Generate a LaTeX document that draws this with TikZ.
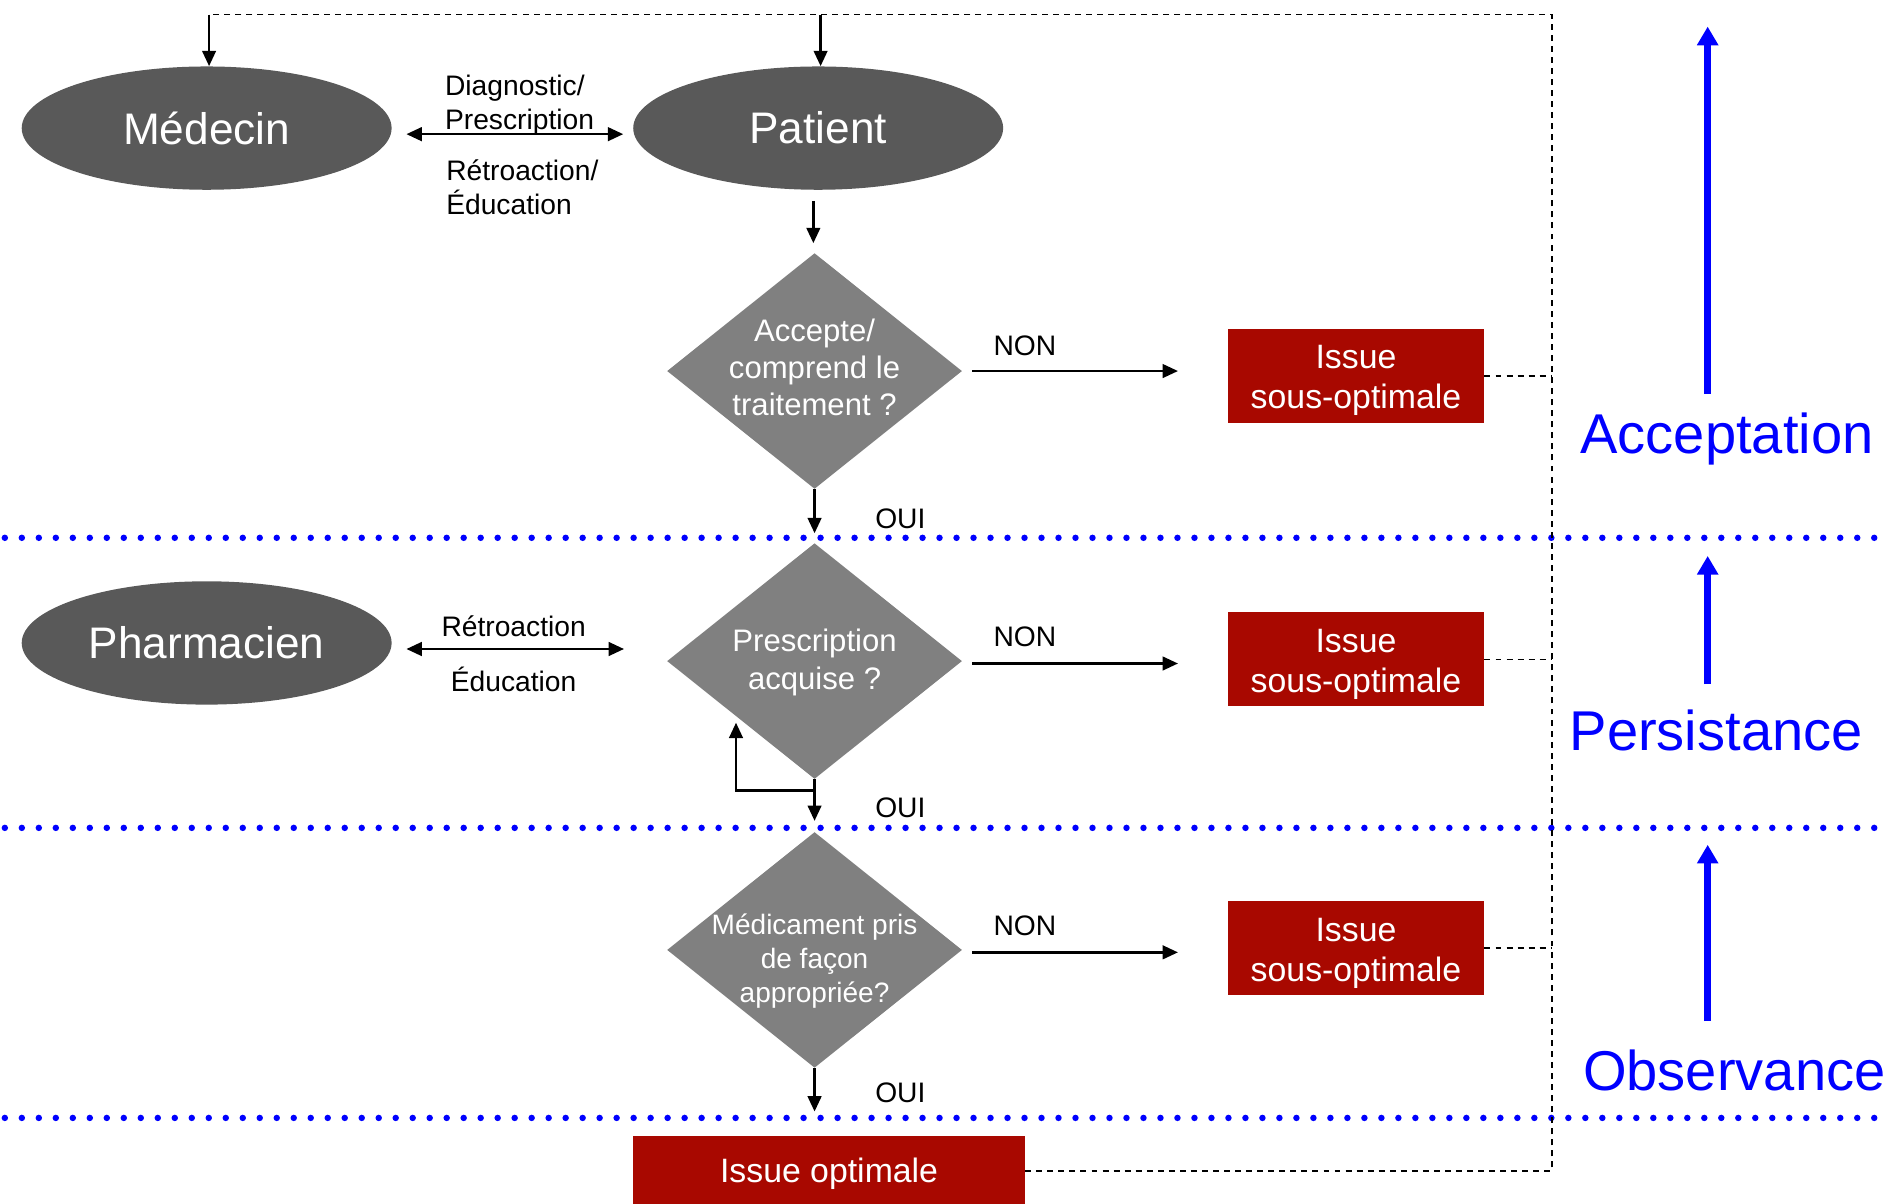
\documentclass[tikz,border=0pt]{standalone}
\usepackage{fontspec}
\setmainfont{Liberation Sans}
\usetikzlibrary{shapes.geometric,arrows.meta,calc}
\definecolor{ellgray}{HTML}{595959}
\definecolor{diagray}{HTML}{808080}
\definecolor{boxred}{HTML}{A80800}
\definecolor{pureblue}{HTML}{0000FF}
\begin{document}
\begin{tikzpicture}[x=0.025cm,y=-0.025cm,
 ell/.style={ellipse, fill=ellgray, text=white, minimum width=7.65cm, minimum height=2.55cm, inner sep=0pt, font=\fontsize{26}{30}\selectfont},
 dia/.style={diamond, fill=diagray, minimum width=6.1cm, minimum height=4.875cm, inner sep=0pt},
 diatext/.style={text=white, align=center, inner sep=0pt, font=\fontsize{18.3}{22}\selectfont},
 diatextsmall/.style={text=white, align=center, inner sep=0pt, font=\fontsize{16.5}{20}\selectfont},
 redbox/.style={rectangle, fill=boxred, minimum width=5.3cm, minimum height=1.95cm, inner sep=0pt},
 boxtext/.style={text=white, align=center, inner sep=0pt, font=\fontsize{19.9}{23.5}\selectfont},
 lab/.style={font=\fontsize{16.6}{20}\selectfont, inner sep=0pt},
 arr/.style={line width=1.4pt, -{Triangle[length=9pt,width=8pt]}},
 dbl/.style={line width=1.4pt, {Triangle[length=9pt,width=8pt]}-{Triangle[length=9pt,width=8pt]}},
 fb/.style={line width=0.9pt, dash pattern=on 3.5pt off 3pt},
 sep/.style={pureblue, line width=3.8pt, line cap=round, dash pattern=on 0pt off 10pt},
 barr/.style={pureblue, line width=4.3pt, -{Triangle[length=11pt,width=12pt]}},
 phase/.style={text=pureblue, inner sep=0pt, font=\fontsize{33}{36}\selectfont},
]
\useasboundingbox (0,0) rectangle (1568,996);

% separators
\coordinate (s1a) at (4,445); \coordinate (s1b) at (1555,445);
\coordinate (s2a) at (4,685); \coordinate (s2b) at (1555,685);
\coordinate (s3a) at (4,925); \coordinate (s3b) at (1555,925);
\draw[sep] (s1a) -- (s1b);
\draw[sep] (s2a) -- (s2b);
\draw[sep] (s3a) -- (s3b);

% actors
\node[ell] (med) at (171,106) {Médecin};
\node[ell] (pat) at (677,106) {Patient};
\node[ell] (pha) at (171,532) {Pharmacien};

% decisions
\node[dia] (d1) at (674,307) {};
\node[diatext] (d1t) at (674,304) {Accepte/\\comprend le\\traitement ?};
\node[dia] (d2) at (674,547) {};
\node[diatext] (d2t) at (674,548) {Prescription\\acquise ?};
\node[dia] (d3) at (674,786) {};
\node[diatextsmall] (d3t) at (674,795) {Médicament pris\\de façon\\appropriée?};

% outcomes
\node[redbox] (b1) at (1122,311) {};
\node[boxtext] (b1t) at (1122,315) {Issue\\sous-optimale};
\node[redbox] (b2) at (1122,545.5) {};
\node[boxtext] (b2t) at (1122,549.5) {Issue\\sous-optimale};
\node[redbox] (b3) at (1122,784.5) {};
\node[boxtext] (b3t) at (1122,788.5) {Issue\\sous-optimale};
\node[redbox, minimum width=8.1cm, minimum height=1.45cm] (opt) at (686,969) {};
\node[boxtext] (optt) at (686,971) {Issue optimale};

% feedback dashed loop
\coordinate (tr) at (1284,12);
\coordinate (ctm) at (173,12);
\coordinate (ctp) at (679,12);
\draw[fb] (opt.east) -| (tr) -- (ctm);
\draw[fb] (b1.east) -- (b1.east -| tr);
\draw[fb] (b2.east) -- (b2.east -| tr);
\draw[fb] (b3.east) -- (b3.east -| tr);
\draw[arr] (ctm) -- (ctm |- med.north);
\draw[arr] (ctp) -- (ctp |- pat.north);

% exchanges
\draw[dbl] ($(med.east)+(12,5)$) -- ($(pat.west)+(-8,5)$);
\node[lab, align=left, anchor=west] (l1) at (368,87) {Diagnostic/\\Prescription};
\node[lab, align=left, anchor=west] (l2) at (369,155) {Rétroaction/\\Éducation};
\draw[dbl] ($(pha.east)+(12,5)$) -- ($(pha.east)+(192,5)$);
\node[lab] (l3) at (425,518) {Rétroaction};
\node[lab] (l4) at (425,562) {Éducation};

% flow
\draw[arr] ($(pat.south)+(-4,9)$) -- ($(d1.north)+(-1,-8)$);
\draw[arr, shorten >=0.2cm] (d1.south) -- (d2.north);
\draw[arr, shorten >=0.225cm] (d2.south) -- (d3.north);
\draw[arr, shorten >=0.5cm] (d3.south) -- (opt.north -| d3.south);
\coordinate (lp) at (674,654);
\coordinate (lpe) at (609,598);
\draw[arr] (lp) -| (lpe);

\draw[arr] ($(d1.east)+(8,0)$) -- ($(b1.west |- d1.east)+(-41,0)$);
\draw[arr] ($(d2.east)+(8,2)$) -- ($(b2.west |- d2.east)+(-41,2)$);
\draw[arr] ($(d3.east)+(8,2)$) -- ($(b3.west |- d3.east)+(-41,2)$);
\node[lab] (n1) at (848,286) {NON};
\node[lab] (n2) at (848,527) {NON};
\node[lab] (n3) at (848,766) {NON};
\node[lab] (o1) at (745,429) {OUI};
\node[lab] (o2) at (745,668) {OUI};
\node[lab] (o3) at (745,904) {OUI};

% phases
\node[phase] (acc) at (1429,363) {Acceptation};
\node[phase] (per) at (1420,604) {Persistance};
\node[phase] (obs) at (1435,886) {Observance};
\coordinate (a1s) at (1413,326); \coordinate (a1e) at (1413,22);
\coordinate (a2s) at (1413,566); \coordinate (a2e) at (1413,460);
\coordinate (a3s) at (1413,845); \coordinate (a3e) at (1413,699);
\draw[barr] (a1s) -- (a1e);
\draw[barr] (a2s) -- (a2e);
\draw[barr] (a3s) -- (a3e);
\end{tikzpicture}
\end{document}
